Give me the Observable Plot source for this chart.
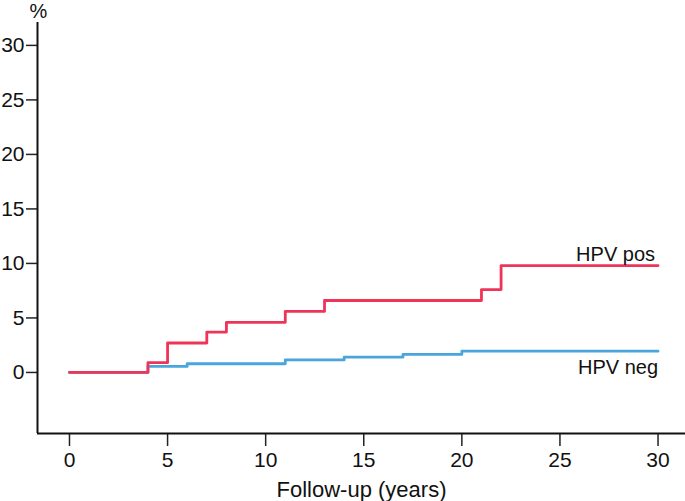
<!DOCTYPE html>
<html>
<head>
<meta charset="utf-8">
<script src="https://cdn.jsdelivr.net/npm/d3@7"></script>
<script src="https://cdn.jsdelivr.net/npm/@observablehq/plot@0.6"></script>
<style>
  html, body { margin: 0; padding: 0; background: #fff; }
  svg { display: block; }
</style>
</head>
<body>
<div id="chart"></div>
<script>
const posYears = [0, 4, 5, 7, 8, 11, 13, 21, 22, 30];
const posPct   = [0, 0.9, 2.7, 3.7, 4.6, 5.6, 6.6, 7.6, 9.8, 9.8];
const negYears = [0, 4, 6, 11, 14, 17, 20, 30];
const negPct   = [0, 0.55, 0.8, 1.15, 1.4, 1.65, 1.95, 1.95];
const seriesNames = ["HPV pos", "HPV neg"];
const xTicks = [0, 5, 10, 15, 20, 25, 30];
const yTicks = [0, 5, 10, 15, 20, 25, 30];

const pos = posYears.map((t, i) => ({t, v: posPct[i]}));
const neg = negYears.map((t, i) => ({t, v: negPct[i]}));
const xDomain = [-1.63, 31.4];
const yDomain = [-5.6, 32.1];
const font = "'Liberation Sans', Arial, Helvetica, sans-serif";

const chart = Plot.plot({
  width: 685,
  height: 501,
  marginLeft: 37,
  marginRight: 0,
  marginTop: 22,
  marginBottom: 68,
  style: {fontFamily: font, background: "#fff", color: "#111"},
  x: {domain: xDomain},
  y: {domain: yDomain},
  marks: [
    Plot.axisY({ticks: yTicks, tickSize: 11, tickPadding: 2, fontSize: 21, label: null, strokeWidth: 1.5, stroke: "#222", fill: "#111"}),
    Plot.axisX({ticks: xTicks, tickSize: 13, tickPadding: 6, fontSize: 21, label: null, strokeWidth: 1.5, stroke: "#222", fill: "#111"}),
    Plot.axisX({ticks: [], label: "Follow-up (years)", labelAnchor: "center", labelOffset: 63, labelArrow: "none", fontSize: 22, fill: "#111"}),
    Plot.ruleX([xDomain[0]], {stroke: "#111", strokeWidth: 2}),
    Plot.ruleY([yDomain[0]], {stroke: "#111", strokeWidth: 2}),
    Plot.line(neg, {x: "t", y: "v", curve: "step-after", stroke: "#4aa5dc", strokeWidth: 2.8}),
    Plot.line(pos, {x: "t", y: "v", curve: "step-after", stroke: "#ee3558", strokeWidth: 2.8}),
    Plot.text([pos[pos.length - 1]], {x: "t", y: "v", text: () => seriesNames[0], textAnchor: "end", lineAnchor: "bottom", dx: -3, dy: -5, fontSize: 20, fill: "#111"}),
    Plot.text([neg[neg.length - 1]], {x: "t", y: "v", text: () => seriesNames[1], textAnchor: "end", lineAnchor: "bottom", dx: 0, dy: 23, fontSize: 20, fill: "#111"}),
    Plot.text(["%"], {frameAnchor: "top-left", text: d => d, lineAnchor: "bottom", dx: 1, dy: -5, textAnchor: "middle", fontSize: 20, fill: "#111"})
  ]
});
document.getElementById("chart").appendChild(chart);
</script>
</body>
</html>
